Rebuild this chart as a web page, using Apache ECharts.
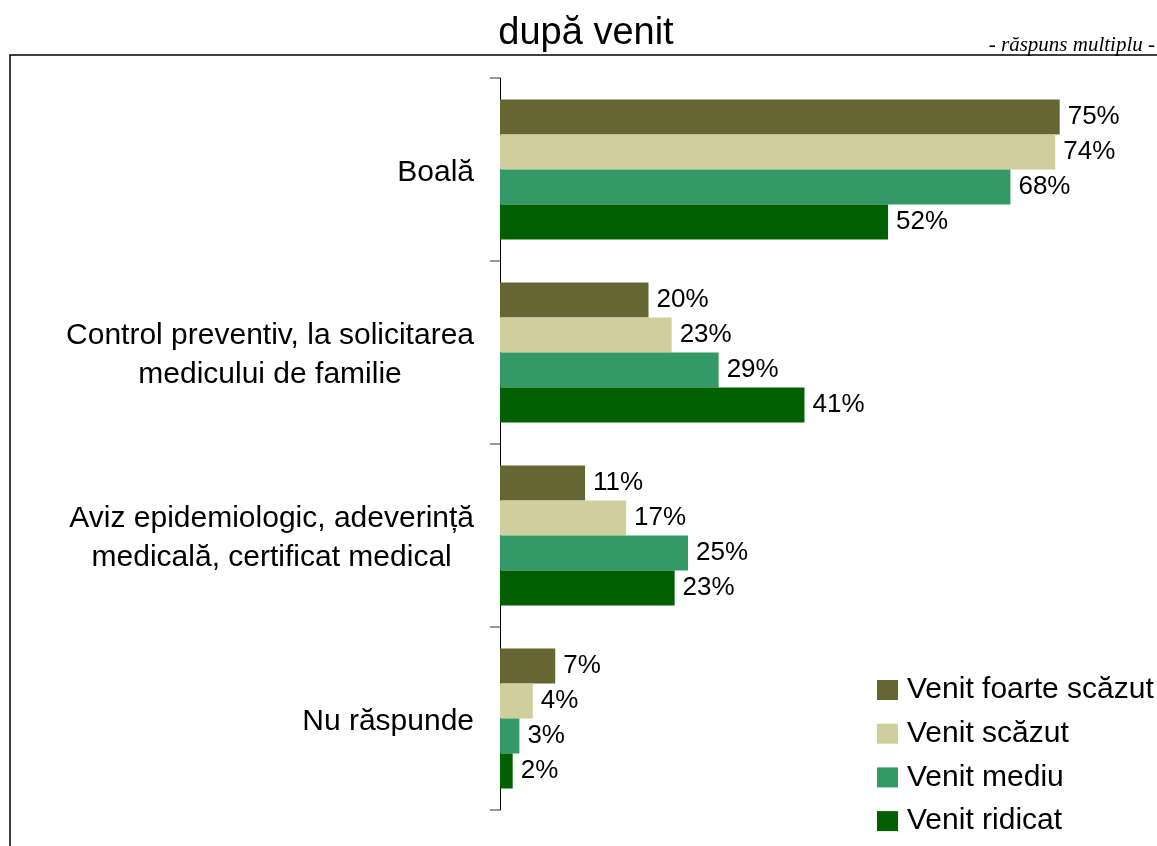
<!DOCTYPE html>
<html>
<head>
<meta charset="utf-8">
<script src="https://cdn.jsdelivr.net/npm/echarts@6/dist/echarts.min.js"></script>
<style>
html,body{margin:0;padding:0;background:#fff;}
#chart{width:1157px;height:846px;}
</style>
</head>
<body>
<div id="chart"></div>
<script>
var categories = [
  'Boală',
  'Control preventiv, la solicitarea\nmedicului de familie',
  'Aviz epidemiologic, adeverință\nmedicală, certificat medical',
  'Nu răspunde'
];
var seriesNames = ['Venit foarte scăzut', 'Venit scăzut', 'Venit mediu', 'Venit ridicat'];
var venitFoarteScazut = [75.0, 19.9, 11.4, 7.4];
var venitScazut = [74.4, 23.0, 16.9, 4.4];
var venitMediu = [68.4, 29.3, 25.2, 2.6];
var venitRidicat = [52.0, 40.8, 23.4, 1.7];
var colors = ['#666633', '#CFCE9C', '#339966', '#005F00'];

var seriesData = [venitFoarteScazut, venitScazut, venitMediu, venitRidicat];
var FONT = "'Liberation Sans', Arial, sans-serif";

var chart = echarts.init(document.getElementById('chart'));
var option = {
  animation: false,
  backgroundColor: '#fff',
  title: [
    {
      text: 'după venit',
      left: 581, top: 10,
      textAlign: 'center',
      textStyle: {fontFamily: FONT, fontSize: 38, fontWeight: 'normal', color: '#000'}
    },
    {
      text: '- răspuns multiplu -',
      right: -3, top: 30,
      textStyle: {fontFamily: "'Liberation Serif', 'Times New Roman', serif", fontStyle: 'italic', fontSize: 21, fontWeight: 'normal', color: '#000'}
    }
  ],
  graphic: [
    {
      type: 'polyline',
      shape: {points: [[10, 846], [10, 55], [1157, 55]]},
      style: {stroke: '#000', lineWidth: 1.5, fill: null},
      silent: true
    }
  ],
  legend: {
    orient: 'vertical',
    left: 877, top: 675,
    padding: 0,
    itemWidth: 21, itemHeight: 20,
    itemGap: 13.7,
    icon: 'rect',
    data: seriesNames,
    textStyle: {fontFamily: FONT, fontSize: 30, color: '#000', lineHeight: 29, padding: [0, 0, 0, 4]}
  },
  grid: {left: 500, top: 78, width: 597, height: 732, containLabel: false},
  xAxis: {
    type: 'value', min: 0, max: 80, show: false
  },
  yAxis: {
    type: 'category',
    data: categories,
    inverse: true,
    axisLine: {show: true, lineStyle: {color: '#000', width: 1}},
    axisTick: {show: true, length: 10, lineStyle: {color: '#777', width: 1.5}},
    splitLine: {show: false},
    axisLabel: {
      interval: 0,
      margin: 26,
      align: 'right',
      padding: [6, 0, 0, 0],
      fontFamily: FONT, fontSize: 30, color: '#000', lineHeight: 39,
      formatter: function (v) {
        return v.split('\n').map(function (s) { return '{c|' + s + '}'; }).join('\n');
      },
      rich: {c: {align: 'center', fontFamily: FONT, fontSize: 30, color: '#000', lineHeight: 39}}
    }
  },
  series: seriesNames.map(function (name, i) {
    return {
      name: name,
      type: 'bar',
      data: seriesData[i],
      barGap: '0%',
      barCategoryGap: '23.5%',
      itemStyle: {color: colors[i]},
      label: {
        show: true, position: 'right', distance: 8,
        fontFamily: FONT, fontSize: 26, color: '#000',
        formatter: function (p) { return Math.round(p.value) + '%'; }
      }
    };
  })
};
chart.setOption(option);
</script>
</body>
</html>
